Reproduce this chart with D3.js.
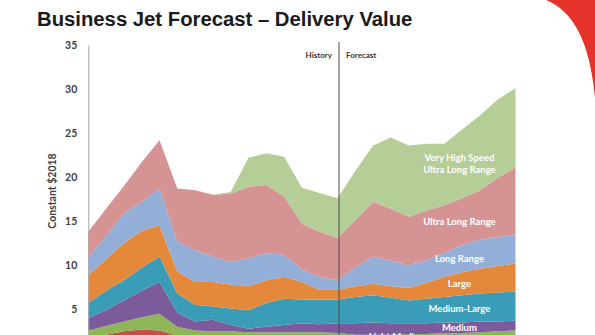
<!DOCTYPE html>
<html>
<head>
<meta charset="utf-8">
<script src="https://cdn.jsdelivr.net/npm/d3@7"></script>
<style>
    html, body { margin: 0; padding: 0; background: #fff; overflow: hidden; }
    svg { display: block; }
</style>
</head>
<body>
<div id="chart"></div>
<script>
// delivery value per segment, constant $2018 (billions)
const years = [2004, 2005, 2006, 2007, 2008, 2009, 2010, 2011, 2012, 2013, 2014, 2015, 2016,
    2017, 2018, 2019, 2020, 2021, 2022, 2023, 2024, 2025, 2026, 2027, 2028];
const light = [1.8, 2.1, 2.5, 2.7, 2.6, 2.0, 1.8, 1.8, 1.7, 1.7, 1.7, 1.7, 1.7,
    1.7, 1.6, 1.4, 1.4, 1.4, 1.4, 1.4, 1.5, 1.5, 1.5, 1.5, 1.6];
const lightMedium = [0.8, 1.0, 1.1, 1.4, 1.9, 1.0, 0.8, 0.7, 0.8, 0.7, 0.7, 0.7, 0.7,
    0.7, 0.7, 0.7, 0.7, 0.7, 0.8, 0.8, 0.8, 0.8, 0.9, 1.0, 1.0];
const medium = [1.4, 1.8, 2.4, 3.0, 3.6, 1.6, 1.0, 1.3, 0.7, 0.4, 0.6, 0.8, 1.0,
    0.9, 1.1, 1.3, 1.4, 1.3, 1.2, 1.2, 1.2, 1.2, 1.2, 1.1, 1.1];
const mediumLarge = [1.7, 2.2, 2.3, 2.6, 2.9, 2.2, 1.9, 1.5, 1.9, 2.1, 2.7, 3.0, 2.7,
    2.8, 2.7, 3.0, 3.1, 2.9, 2.6, 2.8, 2.9, 3.1, 3.2, 3.3, 3.3];
const large = [3.1, 3.6, 4.2, 4.2, 3.5, 2.5, 2.6, 2.8, 2.7, 2.7, 2.6, 2.5, 2.0,
    1.1, 1.1, 1.2, 1.3, 1.3, 1.4, 1.8, 2.3, 2.6, 2.8, 3.0, 3.2];
const longRange = [2.1, 2.6, 3.4, 3.3, 4.2, 3.4, 3.6, 2.9, 2.6, 3.2, 3.1, 2.5, 1.4,
    1.5, 1.1, 2.1, 3.1, 2.9, 2.6, 2.6, 2.7, 3.1, 3.3, 3.3, 3.3];
const ultraLongRange = [2.9, 3.1, 3.1, 4.5, 5.5, 6.0, 6.8, 7.0, 7.7, 8.1, 7.7, 6.6, 5.2,
    5.1, 4.8, 5.4, 6.2, 5.9, 5.5, 5.6, 5.4, 5.3, 5.6, 6.7, 7.6];
const veryHighSpeed = [0, 0, 0, 0, 0, 0, 0, 0, 0.2, 3.3, 3.6, 4.5, 4.1,
    4.4, 4.5, 5.6, 6.4, 8.1, 8.1, 7.6, 7.0, 7.8, 8.5, 8.9, 9.0];

const seriesNames = ["Light", "Light Medium", "Medium", "Medium-Large", "Large",
    "Long Range", "Ultra Long Range", "Very High Speed Ultra Long Range"];
const seriesValues = [light, lightMedium, medium, mediumLarge, large,
    longRange, ultraLongRange, veryHighSpeed];
const seriesColors = ["#c0504d", "#8fb556", "#7b5b9b", "#3a9cb6", "#e4893c",
    "#93aed7", "#d59393", "#b5cd96"];
const yTicks = [5, 10, 15, 20, 25, 30, 35];
const lastHistoryYear = 2018;

const width = 595, height = 335;

// one row per year, one column per segment
const table = years.map(function (yr, i) {
    const row = { year: yr };
    seriesNames.forEach(function (name, k) { row[name] = seriesValues[k][i]; });
    return row;
});

const svg = d3.select("#chart")
    .append("svg")
    .attr("width", width)
    .attr("height", height);

// red swoosh in the top right corner
svg.append("path")
    .attr("d", "M546,0 C575,12 592,45 596,110 L596,0 Z")
    .attr("fill", "#e5322a");

// title
svg.append("text")
    .attr("x", 37)
    .attr("y", 26)
    .attr("font-family", "Liberation Sans, Arial, sans-serif")
    .attr("font-weight", "bold")
    .attr("font-size", 20.3)
    .attr("fill", "#1a1a1a")
    .text("Business Jet Forecast \u2013 Delivery Value");

var x = d3.scaleLinear()
    .domain([years[0], years[years.length - 1]])
    .range([88.3, 515.5]);

var y = d3.scaleLinear()
    .domain([0, 35])
    .range([353.3, 45]);

var stack = d3.stack().keys(seriesNames);
var layers = stack(table);

var area = d3.area()
    .x(function (d) { return x(d.data.year); })
    .y0(function (d) { return y(d[0]); })
    .y1(function (d) { return y(d[1]); });

svg.append("g")
    .selectAll("path")
    .data(layers)
    .enter()
    .append("path")
    .attr("d", area)
    .attr("fill", function (d, i) { return seriesColors[i]; });

// Y axis
var yAxis = svg.append("g")
    .attr("transform", "translate(" + x(years[0]) + ",0)")
    .call(d3.axisLeft(y).tickValues(yTicks).tickSize(0).tickPadding(11));
yAxis.select(".domain").attr("stroke", "#a6a6a6").attr("stroke-width", 1);
yAxis.selectAll("text")
    .attr("font-family", "Lato, sans-serif")
    .attr("font-weight", "bold")
    .attr("font-size", 10.5)
    .attr("fill", "#404040");

svg.append("text")
    .attr("transform", "translate(56,191) rotate(-90)")
    .attr("text-anchor", "middle")
    .attr("font-family", "Lato, sans-serif")
    .attr("font-weight", "bold")
    .attr("font-size", 10.5)
    .attr("fill", "#404040")
    .text("Constant $2018");

// history / forecast divider
var xDiv = x(lastHistoryYear) + 1.5;
svg.append("line")
    .attr("x1", xDiv).attr("x2", xDiv)
    .attr("y1", 42).attr("y2", height)
    .attr("stroke", "#4a4a4a")
    .attr("stroke-width", 1);

svg.append("text")
    .attr("x", xDiv - 7).attr("y", 58)
    .attr("text-anchor", "end")
    .attr("font-family", "Lato, sans-serif")
    .attr("font-weight", "bold")
    .attr("font-size", 8)
    .attr("fill", "#333")
    .text("History");
svg.append("text")
    .attr("x", xDiv + 7).attr("y", 58)
    .attr("font-family", "Lato, sans-serif")
    .attr("font-weight", "bold")
    .attr("font-size", 8)
    .attr("fill", "#333")
    .text("Forecast");

// segment labels, centred in each band
function bandMid(k, yr) {
    var d = layers[k][years.indexOf(yr)];
    return (d[0] + d[1]) / 2;
}
var labelYear = 2025;
var labelX = x(2024.85);
var labels = [
    { k: 7, lines: ["Very High Speed", "Ultra Long Range"], cx: labelX },
    { k: 6, lines: ["Ultra Long Range"], cx: labelX },
    { k: 5, lines: ["Long Range"], cx: labelX },
    { k: 4, lines: ["Large"], cx: labelX },
    { k: 3, lines: ["Medium-Large"], cx: labelX },
    { k: 2, lines: ["Medium"], cx: labelX },
    { k: 1, lines: ["Light Medium"], cx: x(2021.4) }
];

labels.forEach(function (l) {
    var t = svg.append("text")
        .attr("text-anchor", "middle")
        .attr("font-family", "Lato, sans-serif")
        .attr("font-weight", "bold")
        .attr("font-size", 9.5)
        .attr("fill", "#fff");
    var cy = y(bandMid(l.k, labelYear));
    var lineH = 11.7;
    var top = cy - (l.lines.length - 1) * lineH / 2;
    l.lines.forEach(function (s, j) {
        t.append("tspan")
            .attr("x", l.cx)
            .attr("y", top + j * lineH)
            .attr("dy", "0.35em")
            .text(s);
    });
});
</script>
</body>
</html>
